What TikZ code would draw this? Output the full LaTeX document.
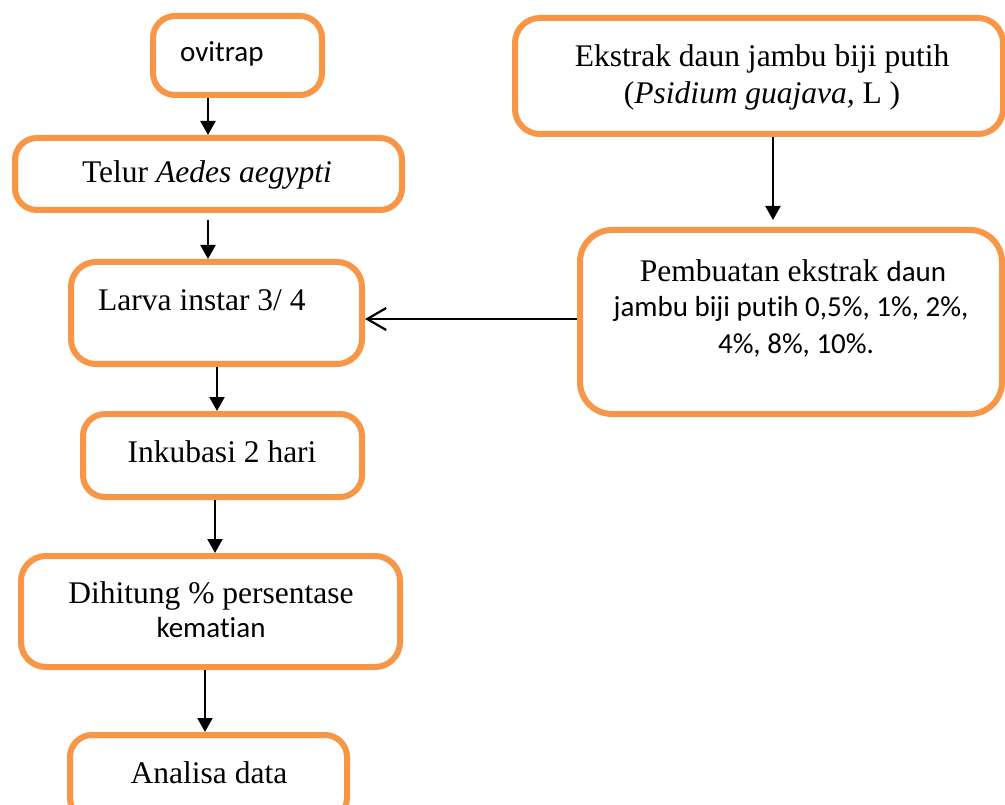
\documentclass[tikz,border=0pt]{standalone}
\usepackage{fontspec}
\setmainfont{Liberation Serif}
\newfontfamily\calfont[Ligatures=NoCommon]{Carlito}
\usetikzlibrary{arrows.meta}
\definecolor{boxorange}{RGB}{247,150,70}
\tikzset{
  box/.style={draw=boxorange, line width=6pt, rounded corners=22pt, fill=white, inner sep=0pt},
  tm/.style={inner sep=0pt, anchor=base, font=\fontsize{31.5}{37}\selectfont},
  cb/.style={inner sep=0pt, anchor=base, font=\calfont\fontsize{29}{36}\selectfont},
  arr/.style={line width=2.2pt, -{Triangle[width=15pt,length=14pt]}},
  oarr/.style={line width=2.2pt, -{Straight Barb[width=22pt,length=19pt,line width=2.2pt]}}
}
\begin{document}
\begin{tikzpicture}[x=1pt,y=-1pt]
\clip (0,0) rectangle (1005,805);
\fill[white] (0,0) rectangle (1005,805);
% boxes
\node[box, minimum width=169pt, minimum height=79pt] (ovi) at (237.5,55.5) {};
\node[box, minimum width=387pt, minimum height=72pt] (tel) at (208.5,174) {};
\node[box, minimum width=488pt, minimum height=116pt, rounded corners=25pt] (eks) at (759,76) {};
\node[box, minimum width=291pt, minimum height=102pt, rounded corners=25pt] (lar) at (216.5,313) {};
\node[box, minimum width=279pt, minimum height=83pt] (ink) at (222.5,455.5) {};
\node[box, minimum width=422pt, minimum height=184pt, rounded corners=32pt] (pem) at (791,322) {};
\node[box, minimum width=379pt, minimum height=111pt, rounded corners=25pt] (dih) at (210.5,611.5) {};
\node[box, minimum width=277pt, minimum height=85pt] (ana) at (208.5,777.5) {};
% texts
\node[cb, anchor=base west] (tovi) at (180,62) {ovitrap};
\node[tm] (ttel) at (207,183) {Telur \textit{Aedes aegypti}};
\node[tm] (teks1) at (762,67) {Ekstrak daun jambu biji putih};
\node[tm] (teks2) at (762,104) {(\textit{Psidium guajava,} L )};
\node[tm, anchor=base west] (tlar) at (98,311) {Larva instar 3/ 4};
\node[tm] (tink) at (222,462) {Inkubasi 2 hari};
\node[tm] (tpem1) at (793,282) {Pembuatan ekstrak {\calfont\fontsize{29}{36}\selectfont daun}};
\node[cb] (tpem2) at (791,317) {jambu biji putih 0,5\%, 1\%, 2\%,};
\node[cb] (tpem3) at (796,353) {4\%, 8\%, 10\%.};
\node[tm] (tdih1) at (211,603) {Dihitung \% persentase};
\node[cb] (tdih2) at (211,637) {kematian};
\node[tm] (tana) at (209,783) {Analisa data};
% connectors
\draw[arr] (208,0 |- ovi.south) -- (208,0 |- tel.north);
\draw[arr] (208,0 |- tel.south) ++(0,7) -- (208,0 |- lar.north);
\draw[arr] (217,0 |- lar.south) -- (217,0 |- ink.north);
\draw[arr] (215,0 |- ink.south) -- (215,0 |- dih.north);
\draw[arr] (205,0 |- dih.south) -- (205,0 |- ana.north);
\draw[arr, shorten >=7pt] (773,0 |- eks.south) -- (773,0 |- pem.north);
\draw[oarr] (pem.west |- 0,319) -- (lar.east |- 0,319);
\end{tikzpicture}
\end{document}
